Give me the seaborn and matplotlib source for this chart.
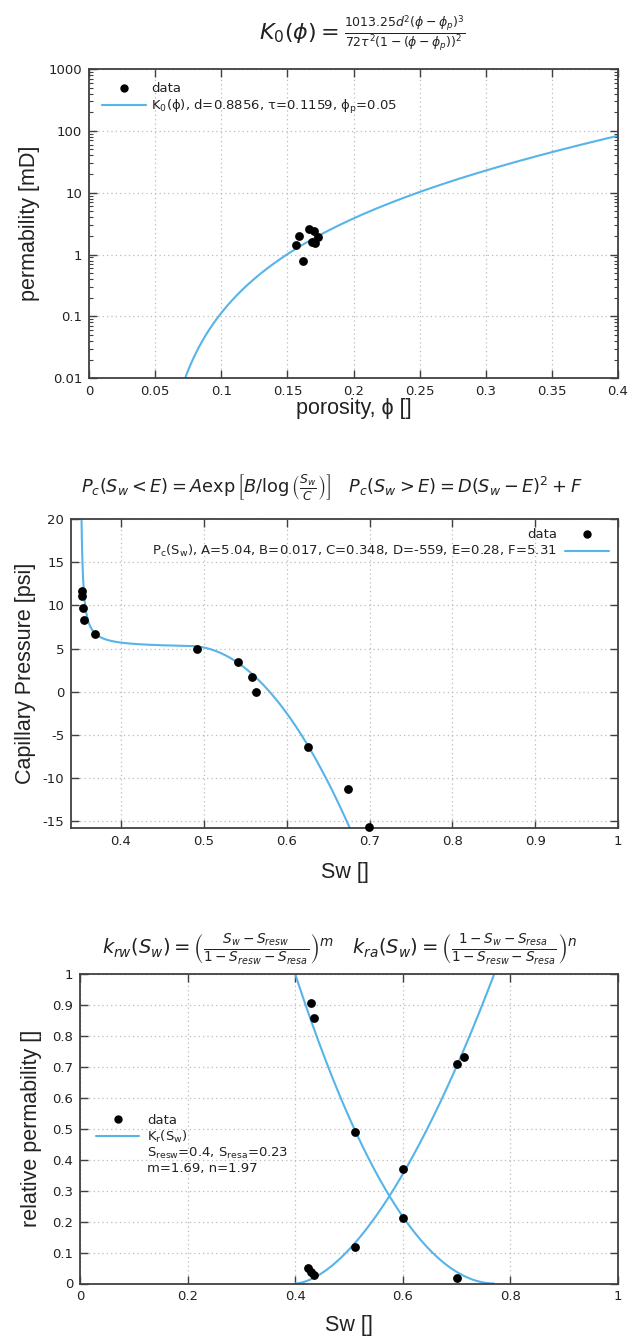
import numpy as np
import matplotlib
matplotlib.use("Agg")
import matplotlib.pyplot as plt
from matplotlib.lines import Line2D
from matplotlib.ticker import LogLocator, FixedLocator, NullFormatter
import seaborn as sns

# ---------------- data ----------------
# porosity / permeability core samples
phi_data = [0.1565, 0.1587, 0.1620, 0.1663, 0.1703, 0.1688, 0.1708, 0.1731]
perm_data = [1.43, 2.02, 0.79, 2.59, 2.41, 1.62, 1.52, 1.95]
# Kozeny-Carman fit parameters
kc_d, kc_tau, kc_phip = 0.8856, 0.1159, 0.05

# capillary pressure measurements
sw_pc = [0.3533, 0.3533, 0.3541, 0.3553, 0.369, 0.4914, 0.5409, 0.5578,
         0.5634, 0.6261, 0.674, 0.699]
pc_data = [11.7, 11.1, 9.7, 8.3, 6.7, 4.9, 3.4, 1.7, 0.0, -6.4, -11.2, -15.7]
pc_A, pc_B, pc_C, pc_D, pc_E, pc_F = 5.04, 0.017, 0.348, -559, 0.28, 5.31

# relative permeability measurements
sw_kr = [0.423, 0.429, 0.435, 0.429, 0.435, 0.511, 0.511, 0.600, 0.600,
         0.701, 0.714, 0.701]
kr_data = [0.051, 0.037, 0.029, 0.906, 0.857, 0.489, 0.119, 0.369, 0.213,
           0.708, 0.731, 0.018]
s_resw, s_resa, kr_m, kr_n = 0.4, 0.23, 1.69, 1.97

# tick labels
x1_ticks = [0, 0.05, 0.1, 0.15, 0.2, 0.25, 0.3, 0.35, 0.4]
x1_labels = ["0", "0.05", "0.1", "0.15", "0.2", "0.25", "0.3", "0.35", "0.4"]
y1_ticks = [0.01, 0.1, 1, 10, 100, 1000]
y1_labels = ["0.01", "0.1", "1", "10", "100", "1000"]
x2_ticks = [0.4, 0.5, 0.6, 0.7, 0.8, 0.9, 1.0]
x2_labels = ["0.4", "0.5", "0.6", "0.7", "0.8", "0.9", "1"]
y2_ticks = [-15, -10, -5, 0, 5, 10, 15, 20]
y2_labels = ["-15", "-10", "-5", "0", "5", "10", "15", "20"]
x3_ticks = [0, 0.2, 0.4, 0.6, 0.8, 1.0]
x3_labels = ["0", "0.2", "0.4", "0.6", "0.8", "1"]
y3_ticks = [0, 0.1, 0.2, 0.3, 0.4, 0.5, 0.6, 0.7, 0.8, 0.9, 1.0]
y3_labels = ["0", "0.1", "0.2", "0.3", "0.4", "0.5", "0.6", "0.7", "0.8",
             "0.9", "1"]

# ---------------- style ----------------
sns.set_theme(style="ticks")
plt.rcParams["font.family"] = ["DejaVu Sans"]
plt.rcParams["mathtext.fontset"] = "dejavusans"

BLUE = "#56B4E9"
FRAME = "#404040"
TXT = "#222222"
GRID = "#BBBBBB"
LABEL_FONT = ["Liberation Sans", "DejaVu Sans"]
LABEL_SIZE = 15.5

fig = plt.figure(figsize=(6.38, 13.4), dpi=100)
H = 1340.0
W = 638.0


def add_axes(left, right, top, bottom):
    return fig.add_axes([left / W, 1 - bottom / H, (right - left) / W,
                         (bottom - top) / H])


def style_axes(ax):
    for s in ax.spines.values():
        s.set_color(FRAME)
        s.set_linewidth(1.3)
    ax.tick_params(which="both", direction="in", top=True, right=True,
                   color=FRAME, labelcolor=TXT, labelsize=9.5, pad=5)
    ax.tick_params(which="major", length=6, width=1.0)
    ax.tick_params(which="minor", length=3, width=0.8)
    ax.grid(True, which="major", linestyle=(0, (1, 2.5)), color=GRID,
            linewidth=0.9)
    ax.set_axisbelow(True)


def legend_font():
    return {"family": "DejaVu Sans", "size": 9.5}


def data_handle():
    return Line2D([], [], marker="o", color="black", linestyle="none",
                  markersize=5)


# ---------------- panel 1: permeability vs porosity ----------------
ax1 = add_axes(89, 618, 69, 378.3)
ax1.set_yscale("log")
phi_fit = np.linspace(kc_phip + 1e-4, 0.4, 800)
dphi = phi_fit - kc_phip
k_fit = 1013.25 * kc_d ** 2 * dphi ** 3 / (72 * kc_tau ** 2 * (1 - dphi) ** 2)
sns.lineplot(x=phi_fit, y=k_fit, ax=ax1, color=BLUE, linewidth=1.5,
             estimator=None, sort=False, legend=False)
sns.scatterplot(x=phi_data, y=perm_data, ax=ax1, color="black", s=40,
                linewidth=0, legend=False, zorder=5)
ax1.set_xlim(0, 0.4)
ax1.set_ylim(0.01, 1000)
ax1.set_xticks(x1_ticks)
ax1.set_xticklabels(x1_labels)
ax1.yaxis.set_major_locator(FixedLocator(y1_ticks))
ax1.set_yticklabels(y1_labels)
ax1.yaxis.set_minor_locator(LogLocator(base=10, subs=np.arange(2, 10)))
ax1.yaxis.set_minor_formatter(NullFormatter())
style_axes(ax1)
ax1.set_xlabel("porosity, ϕ []", fontsize=LABEL_SIZE, color=TXT,
               family=LABEL_FONT, labelpad=0)
ax1.set_ylabel("permability [mD]", fontsize=LABEL_SIZE, color=TXT,
               family=LABEL_FONT, labelpad=6)
h1 = [data_handle(), Line2D([], [], color=BLUE, linewidth=1.5)]
l1 = ["data",
      r"K$_0$(ϕ), d=0.8856, τ=0.1159, ϕ$_\mathrm{p}$=0.05"]
ax1.legend(h1, l1, loc="upper left", frameon=False, prop=legend_font(),
           handlelength=3.3, handletextpad=0.4, labelspacing=0.2,
           borderaxespad=0.6, borderpad=0.4, labelcolor=TXT)
# Kozeny-Carman formula: left-hand side large, the fraction compact
fig.text(339 / W, 1 - 33 / H, r"$K_0(\phi) =$",
         ha="right", va="center", fontsize=16, color=TXT)
fig.text(344 / W, 1 - 33 / H,
         r"$\dfrac{1013.25d^2(\phi - \phi_p)^3}"
         r"{72\tau^2(1 - (\phi - \phi_p))^2}$",
         ha="left", va="center", fontsize=9, color=TXT)

# ---------------- panel 2: capillary pressure ----------------
ax2 = add_axes(71.3, 618, 519, 828.3)
# the two branches join where the exponential branch reaches F
sw_join = pc_C * np.exp(pc_B / np.log(pc_F / pc_A))
sw_fit = np.concatenate([np.linspace(pc_C + 0.0025, 0.37, 600),
                         np.linspace(0.37, 1.0, 600)[1:]])
pc_fit = np.where(sw_fit < sw_join,
                  pc_A * np.exp(pc_B / np.log(sw_fit / pc_C)),
                  pc_D * (sw_fit - sw_join) ** 2 + pc_F)
sns.lineplot(x=sw_fit, y=pc_fit, ax=ax2, color=BLUE, linewidth=1.5,
             estimator=None, sort=False, legend=False)
sns.scatterplot(x=sw_pc, y=pc_data, ax=ax2, color="black", s=40,
                linewidth=0, legend=False, zorder=5, clip_on=False)
ax2.set_xlim(0.34, 1.0)
ax2.set_ylim(-15.8, 20)
ax2.set_xticks(x2_ticks)
ax2.set_xticklabels(x2_labels)
ax2.set_yticks(y2_ticks)
ax2.set_yticklabels(y2_labels)
style_axes(ax2)
ax2.set_xlabel("Sw []", fontsize=LABEL_SIZE, color=TXT, family=LABEL_FONT,
               labelpad=10)
ax2.set_ylabel("Capillary Pressure [psi]", fontsize=LABEL_SIZE, color=TXT,
               family=LABEL_FONT, labelpad=5)
h2 = [data_handle(), Line2D([], [], color=BLUE, linewidth=1.5)]
l2 = ["data",
      r"P$_\mathrm{c}$(S$_\mathrm{w}$), A=5.04, B=0.017, C=0.348, "
      r"D=-559, E=0.28, F=5.31"]
ax2.legend(h2, l2, loc="upper right", frameon=False, prop=legend_font(),
           markerfirst=False, alignment="right", handlelength=3.3,
           handletextpad=0.6, labelspacing=0.15, borderaxespad=0.3,
           borderpad=0.4, labelcolor=TXT)
fig.text(332 / W, 1 - 487 / H,
         r"$P_c(S_w < E) = A\exp\left[B/\log\left(\frac{S_w}{C}\right)\right]"
         r"\quad P_c(S_w > E) = D(S_w - E)^2 + F$",
         ha="center", va="center", fontsize=12.8, color=TXT)

# ---------------- panel 3: relative permeability ----------------
ax3 = add_axes(80, 618, 974, 1283.5)
denom = 1 - s_resw - s_resa
sw_w = np.linspace(s_resw, 0.8, 500)
krw_fit = ((sw_w - s_resw) / denom) ** kr_m
sw_a = np.linspace(0.38, 1 - s_resa, 500)
kra_fit = ((1 - sw_a - s_resa) / denom) ** kr_n
sns.lineplot(x=sw_w, y=krw_fit, ax=ax3, color=BLUE, linewidth=1.5,
             estimator=None, sort=False, legend=False)
sns.lineplot(x=sw_a, y=kra_fit, ax=ax3, color=BLUE, linewidth=1.5,
             estimator=None, sort=False, legend=False)
sns.scatterplot(x=sw_kr, y=kr_data, ax=ax3, color="black", s=40,
                linewidth=0, legend=False, zorder=5, clip_on=False)
ax3.set_xlim(0, 1)
ax3.set_ylim(0, 1)
ax3.set_xticks(x3_ticks)
ax3.set_xticklabels(x3_labels)
ax3.set_yticks(y3_ticks)
ax3.set_yticklabels(y3_labels)
style_axes(ax3)
ax3.set_xlabel("Sw []", fontsize=LABEL_SIZE, color=TXT, family=LABEL_FONT,
               labelpad=8)
ax3.set_ylabel("relative permability []", fontsize=LABEL_SIZE, color=TXT,
               family=LABEL_FONT, labelpad=7)
blank = Line2D([], [], linestyle="none")
h3 = [data_handle(), Line2D([], [], color=BLUE, linewidth=1.5), blank, blank]
l3 = ["data",
      r"K$_\mathrm{r}$(S$_\mathrm{w}$)",
      r"S$_\mathrm{resw}$=0.4, S$_\mathrm{resa}$=0.23",
      "m=1.69, n=1.97"]
ax3.legend(h3, l3, loc="upper left", bbox_to_anchor=(0.005, 0.59),
           frameon=False, prop=legend_font(), handlelength=3.3,
           handletextpad=0.6, labelspacing=0.1, borderaxespad=0.6,
           borderpad=0.4, labelcolor=TXT)
fig.text(340 / W, 1 - 948 / H,
         r"$k_{rw}(S_w) = \left(\frac{S_w - S_{resw}}{1 - S_{resw} - S_{resa}}"
         r"\right)^m \quad k_{ra}(S_w) = \left(\frac{1 - S_w - S_{resa}}"
         r"{1 - S_{resw} - S_{resa}}\right)^n$",
         ha="center", va="center", fontsize=14, color=TXT)

fig.savefig("out.png", dpi=100, facecolor="white")
